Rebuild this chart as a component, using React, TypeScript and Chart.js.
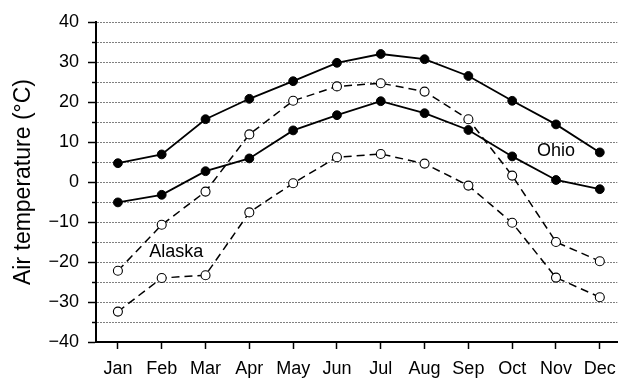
import React, { useEffect, useRef } from "react";
import { Chart, registerables } from "chart.js";

Chart.register(...registerables);

const months = ["Jan", "Feb", "Mar", "Apr", "May", "Jun", "Jul", "Aug", "Sep", "Oct", "Nov", "Dec"];
const ohioMax = [4.7, 6.9, 15.7, 20.8, 25.2, 29.8, 32.0, 30.7, 26.5, 20.3, 14.4, 7.4];
const ohioMin = [-5.1, -3.2, 2.7, 5.9, 12.9, 16.7, 20.2, 17.2, 13.0, 6.4, 0.5, -1.8];
const alaskaMax = [-22.2, -10.7, -2.4, 11.9, 20.3, 23.9, 24.7, 22.6, 15.7, 1.6, -15.0, -19.8];
const alaskaMin = [-32.4, -24.0, -23.3, -7.6, -0.3, 6.2, 7.0, 4.6, -0.9, -10.2, -23.9, -28.8];
const minorTicks = [-35, -25, -15, -5, 5, 15, 25, 35];
const seriesLabels = [
  { text: "Ohio", x: 10, y: 7.7 },
  { text: "Alaska", x: 1.33, y: -17.6 },
];

const FONT = "'Liberation Sans', Arial, Helvetica, sans-serif";

const toPoints = (vals: number[]) => vals.map((v, i) => ({ x: i, y: v }));

const fmt = (v: number) => (v < 0 ? "\u2212" + Math.abs(v) : String(v));

const extrasPlugin = {
  id: "extras",
  afterDraw(chart: any) {
    const { ctx, scales } = chart;
    const x = scales.x;
    const y = scales.y;
    ctx.save();
    ctx.strokeStyle = "#000";
    ctx.lineWidth = 1.5;
    minorTicks.forEach((v) => {
      const py = Math.round(y.getPixelForValue(v)) + 0.5;
      ctx.beginPath();
      ctx.moveTo(chart.chartArea.left - 4, py);
      ctx.lineTo(chart.chartArea.left, py);
      ctx.stroke();
    });
    ctx.fillStyle = "#000";
    ctx.font = `18px ${FONT}`;
    ctx.textAlign = "center";
    ctx.textBaseline = "middle";
    seriesLabels.forEach((l) => {
      ctx.fillText(l.text, x.getPixelForValue(l.x), y.getPixelForValue(l.y));
    });
    ctx.restore();
  },
};

export default function App() {
  const ref = useRef<HTMLCanvasElement>(null);

  useEffect(() => {
    if (!ref.current) return;
    const solid = (data: number[]) => ({
      data: toPoints(data),
      borderColor: "#000",
      borderWidth: 1.8,
      pointRadius: 4.4,
      pointBackgroundColor: "#000",
      pointBorderColor: "#000",
      pointBorderWidth: 1,
      tension: 0,
    });
    const dashed = (data: number[]) => ({
      data: toPoints(data),
      borderColor: "#000",
      borderWidth: 1.5,
      borderDash: [8, 5],
      pointRadius: 4.5,
      pointBackgroundColor: "#fff",
      pointBorderColor: "#000",
      pointBorderWidth: 1.1,
      tension: 0,
    });
    const chart = new Chart(ref.current, {
      type: "line",
      data: {
        datasets: [solid(ohioMax), solid(ohioMin), dashed(alaskaMax), dashed(alaskaMin)],
      },
      options: {
        animation: false,
        responsive: false,
        layout: { padding: { top: 22, left: 0, right: 0, bottom: 0 } },
        plugins: { legend: { display: false }, tooltip: { enabled: false } },
        scales: {
          x: {
            type: "linear",
            min: -0.5,
            max: 11.4,
            afterBuildTicks: (s: any) => {
              s.ticks = months.map((_, i) => ({ value: i }));
            },
            afterFit: (s: any) => {
              s.height = 36;
            },
            ticks: {
              callback: (v: any) => months[v as number] ?? "",
              font: { family: FONT, size: 18 },
              color: "#000",
              padding: 9,
              maxRotation: 0,
              autoSkip: false,
            },
            grid: {
              drawOnChartArea: false,
              drawTicks: true,
              tickLength: 7,
              tickColor: "#000",
              tickWidth: 1.5,
            },
            border: { display: true, color: "#000", width: 2 },
          },
          y: {
            type: "linear",
            min: -40,
            max: 40,
            afterFit: (s: any) => {
              s.width = 96;
            },
            ticks: {
              stepSize: 5,
              autoSkip: false,
              callback: (v: any) => ((v as number) % 10 === 0 ? fmt(v as number) : ""),
              font: { family: FONT, size: 18 },
              color: "#000",
              padding: 9,
            },
            grid: {
              color: (c: any) => (c.tick && c.tick.value === -40 ? "rgba(0,0,0,0)" : "#808080"),
              lineWidth: 1,
              drawTicks: true,
              tickLength: 8,
              tickWidth: 1.5,
              tickColor: (c: any) =>
                c.tick && c.tick.value % 10 === 0 ? "#000" : "rgba(0,0,0,0)",
            },
            border: { display: true, color: "#000", width: 2, dash: [2, 1] },
            title: {
              display: true,
              text: "Air temperature (°C)",
              font: { family: FONT, size: 23 },
              color: "#000",
              padding: { top: 10, bottom: 0 },
            },
          },
        },
      },
      plugins: [extrasPlugin],
    } as any);
    return () => chart.destroy();
  }, []);

  return (
    <div style={{ position: "absolute", left: 0, top: 0, width: 625, height: 378 }}>
      <canvas ref={ref} width={625} height={378} />
    </div>
  );
}
